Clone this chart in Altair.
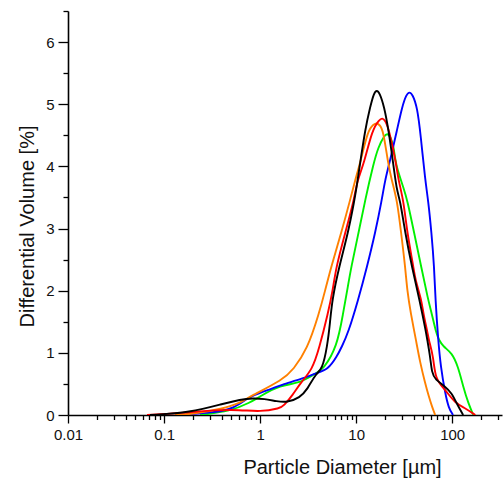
import altair as alt
import pandas as pd

# ---- data (diameter in µm, differential volume in %) ----
black_d = [0.0714, 0.187, 0.412, 0.62, 0.85, 1.1, 1.5, 1.9, 2.6, 3.1, 3.83, 4.43, 5.0, 5.36, 5.62, 6.65, 8.25, 9.6, 10.0, 11.0, 12.4, 14.0,
           15.3, 16.4, 17.6,
           19.6, 21.7, 24.3, 26.4, 28.7, 32.4, 38.0, 45.7, 53.6, 55.0, 59.0, 61.5, 66.5, 84.5, 99.0, 111.0, 130.0]
black_v = [0.0, 0.04, 0.18, 0.25, 0.27, 0.26, 0.22, 0.20, 0.28, 0.41, 0.675, 0.73, 1.1, 1.5, 1.85, 2.39, 2.93, 3.46, 3.62, 4.05, 4.59, 4.96,
           5.18, 5.23, 5.18,
           4.96, 4.59, 4.05, 3.62, 3.46, 2.93, 2.39, 1.85, 1.32, 1.21, 0.94, 0.675, 0.57, 0.46, 0.35, 0.19, 0.0]

blue_d = [0.147, 0.324, 0.487, 0.62, 0.787, 1.37, 1.62, 2.81, 3.83, 5.1, 6.3, 7.1, 8.25, 10.5, 13.0, 15.8, 18.5, 20.0, 22.2, 26.7, 30.1,
          33.4, 35.9, 38.6,
          43.2, 47.0, 52.3, 56.2, 60.9, 64.9, 66.9, 71.5, 75.9, 84.5, 91.9, 102.0]
blue_v = [0.0, 0.04, 0.09, 0.18, 0.3, 0.43, 0.48, 0.59, 0.675, 0.73, 0.94, 1.1, 1.32, 1.85, 2.39, 2.93, 3.46, 3.78, 4.05, 4.59, 4.96,
          5.16, 5.20, 5.16,
          4.96, 4.5, 3.78, 3.46, 2.93, 2.39, 1.85, 1.2, 0.78, 0.35, 0.11, 0.0]

red_d = [0.0665, 0.147, 0.237, 0.324, 0.619, 1.0, 1.62, 1.74, 2.21, 2.61, 3.5, 4.12, 5.1, 5.7, 6.2, 7.7, 9.5, 10.3, 12.1, 14.7,
         17.4, 18.7, 20.1,
         22.0, 26.1, 27.5, 31.1, 34.0, 39.4, 41.2, 47.9, 49.9, 55.5, 56.9, 63.8, 66.5, 84.5, 107.0, 137.0, 174.0]
red_v = [0.0, 0.03, 0.06, 0.075, 0.085, 0.05, 0.11, 0.14, 0.33, 0.51, 0.73, 1.07, 1.64, 2.0, 2.39, 2.93, 3.46, 3.78, 4.05, 4.59,
         4.75, 4.78, 4.74,
         4.59, 4.05, 3.78, 3.46, 2.93, 2.39, 2.18, 1.85, 1.64, 1.32, 1.21, 0.94, 0.57, 0.41, 0.19, 0.11, 0.0]

orange_d = [0.130, 0.187, 0.412, 0.619, 0.787, 1.74, 2.21, 3.09, 4.12, 4.75, 5.5, 7.0, 8.66, 9.77, 11.0, 13.3,
            15.2, 16.3, 17.5,
            19.1, 21.5, 23.4, 26.7, 29.4, 32.4, 34.0, 37.0, 41.9, 46.4, 52.3, 57.0, 61.5, 66.5]
orange_v = [0.0, 0.01, 0.1, 0.19, 0.3, 0.57, 0.73, 1.05, 1.64, 2.0, 2.39, 2.93, 3.46, 3.78, 4.05, 4.59,
            4.675, 4.70, 4.67,
            4.59, 4.05, 3.78, 3.46, 2.93, 2.39, 2.0, 1.64, 1.21, 0.84, 0.51, 0.3, 0.14, 0.0]

green_d = [0.237, 0.487, 0.787, 1.0, 1.62, 2.61, 3.83, 4.53, 6.34, 7.32, 8.06, 8.9, 10.6, 12.4, 15.2, 16.9,
           19.7, 21.2, 22.8,
           24.8, 25.5, 31.7, 34.0, 40.2, 47.5, 56.2, 61.1, 68.1, 72.6, 80.5, 99.7, 115.0, 130.0, 147.0, 166.0]
green_v = [0.0, 0.06, 0.2, 0.3, 0.48, 0.51, 0.675, 0.73, 1.1, 1.64, 2.0, 2.39, 2.93, 3.46, 4.05, 4.3,
           4.50, 4.53, 4.48,
           4.3, 4.05, 3.62, 3.46, 2.93, 2.39, 1.85, 1.64, 1.32, 1.21, 1.1, 1.0, 0.78, 0.46, 0.19, 0.0]

series_names = ["green", "blue", "orange", "red", "black"]
series_colors = ["#00f000", "#0000ff", "#ff8000", "#ff0000", "#000000"]
series_data = {
    "green": (green_d, green_v),
    "blue": (blue_d, blue_v),
    "orange": (orange_d, orange_v),
    "red": (red_d, red_v),
    "black": (black_d, black_v),
}

x_major = [0.01, 0.1, 1, 10, 100]
x_tick_values = sorted({round(k * 10 ** e, 6) for e in range(-2, 3) for k in range(1, 10)})
x_tick_values = [t for t in x_tick_values if t <= 300]
y_tick_values = [i * 0.5 for i in range(0, 14)]

FONT = "Liberation Sans"

rows = []
for name in series_names:
    ds, vs = series_data[name]
    for i, (d, v) in enumerate(zip(ds, vs)):
        rows.append({"series": name, "d": d, "v": v, "i": i})
df = pd.DataFrame(rows)

major_list = "[" + ",".join(str(m) for m in x_major) + "]"

x_axis = alt.Axis(
    values=x_tick_values,
    labelExpr=f"indexof({major_list}, datum.value) >= 0 ? format(datum.value, '~g') : ''",
    tickSize={"expr": f"indexof({major_list}, datum.value) >= 0 ? 8 : 4.5"},
    grid=False, domainColor="black", domainWidth=1.6, tickColor="black", tickWidth=1.3,
    labelFont=FONT, labelFontSize=15, labelColor="#111", labelPadding=4,
    labelFlush=False, labelOverlap=False,
    title="Particle Diameter [µm]", titleFont=FONT, titleFontSize=20, titleFontWeight="normal",
    titleColor="#111", titleX=274, titleY=58, titleAlign="center", titleBaseline="alphabetic",
)
y_axis = alt.Axis(
    values=y_tick_values,
    labelExpr="datum.value % 1 == 0 ? format(datum.value, 'd') : ''",
    tickSize={"expr": "datum.value % 1 == 0 ? 10 : 5"},
    grid=False, domainColor="black", domainWidth=1.6, tickColor="black", tickWidth=1.3,
    labelFont=FONT, labelFontSize=15, labelColor="#111", labelPadding=4,
    labelFlush=False, labelOverlap=False,
    title="Differential Volume [%]", titleFont=FONT, titleFontSize=20, titleFontWeight="normal",
    titleColor="#111", titleX=-35, titleY=215, titleAngle=270, titleAlign="center", titleBaseline="alphabetic",
)

x_enc = alt.X("d:Q", scale=alt.Scale(type="log", domain=[0.01, 330], nice=False), axis=x_axis)
y_enc = alt.Y("v:Q", scale=alt.Scale(domain=[0, 6.5], nice=False), axis=y_axis)

layers = []
for name, color in zip(series_names, series_colors):
    layers.append(
        alt.Chart(df).transform_filter(alt.datum.series == name)
        .mark_line(color=color, strokeWidth=1.9, interpolate="basis", clip=True)
        .encode(x=x_enc, y=y_enc, order="i:Q")
    )

chart = alt.layer(*layers).properties(
    width=434, height=404,
    autosize=alt.AutoSizeParams(type="none"),
    padding={"left": 68, "top": 11, "right": 1, "bottom": 64},
    background="white",
).configure_view(stroke=None)

chart.save("out.html", embed_options={"renderer": "svg", "actions": False})
